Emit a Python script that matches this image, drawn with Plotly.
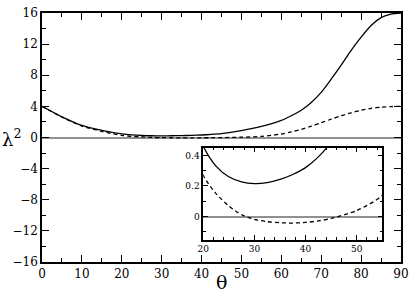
import plotly.graph_objects as go

# Data
theta = [0, 5, 10, 15, 20, 22.5, 25, 27.5, 30, 32.5, 35, 37.5, 40, 42.5, 45,
         50, 55, 60, 62.5, 65, 67.5, 70, 72.5, 75, 77.5, 80, 82.5, 85, 87.5, 90]
solid = [4.0, 2.65, 1.55, 0.92, 0.46, 0.33, 0.26, 0.227, 0.216, 0.222, 0.243,
         0.275, 0.32, 0.39, 0.49, 0.88, 1.42, 2.2, 2.8, 3.5, 4.5, 5.8, 7.5, 9.3, 11.2,
         12.9, 14.4, 15.4, 15.87, 16.0]
dashed = [4.0, 2.62, 1.47, 0.78, 0.27, 0.15, 0.07, 0.012, -0.018, -0.033, -0.04,
          -0.042, -0.038, -0.028, -0.012, 0.04, 0.14, 0.45, 0.73, 1.05, 1.45, 1.9, 2.35,
          2.8, 3.18, 3.5, 3.75, 3.9, 3.98, 4.0]

main_xticks = [0, 10, 20, 30, 40, 50, 60, 70, 80, 90]
main_yticks = [-16, -12, -8, -4, 0, 4, 8, 12, 16]
inset_xticks = [20, 30, 40, 50]
inset_yticks = [0, 0.2, 0.4]

FONT = "DejaVu Serif"

fig = go.Figure()
for ax in ["", "2"]:
    xa, ya = "x" + ax, "y" + ax
    fig.add_trace(go.Scatter(x=theta, y=solid, mode="lines", xaxis=xa, yaxis=ya,
                             line=dict(color="black", width=1.3, shape="spline", smoothing=0.7),
                             showlegend=False, hoverinfo="skip"))
    fig.add_trace(go.Scatter(x=theta, y=dashed, mode="lines", xaxis=xa, yaxis=ya,
                             line=dict(color="black", width=1.3, dash="4px,3px", shape="spline", smoothing=0.7),
                             showlegend=False, hoverinfo="skip"))

axis_common = dict(showline=True, linecolor="black", linewidth=1.5, mirror="ticks",
                   ticks="inside", tickcolor="black", showgrid=False)

fig.update_layout(
    width=415, height=295,
    margin=dict(l=42, r=9, t=6, b=33),
    paper_bgcolor="white", plot_bgcolor="white",
    font=dict(family=FONT, color="black"),
    xaxis=dict(range=[0, 90], tickvals=main_xticks, ticklen=7, tickwidth=1,
               minor=dict(dtick=5, tick0=0, ticks="inside", ticklen=4, tickcolor="black"),
               tickfont=dict(size=12, family=FONT), zeroline=False, **axis_common),
    yaxis=dict(range=[-16, 16], tickvals=main_yticks, ticklen=7, tickwidth=1,
               minor=dict(dtick=2, tick0=0, ticks="inside", ticklen=4, tickcolor="black"),
               tickfont=dict(size=12, family=FONT), zeroline=True, zerolinecolor="#909090",
               zerolinewidth=1.5, **axis_common),
    xaxis2=dict(domain=[0.449, 0.948], anchor="y2", range=[20, 55], tickvals=inset_xticks,
                ticklen=5, tickwidth=1,
                minor=dict(dtick=2, tick0=20, ticks="inside", ticklen=3, tickcolor="black"),
                tickfont=dict(size=9, family=FONT), zeroline=False, **axis_common),
    yaxis2=dict(domain=[0.09, 0.459], anchor="x2", range=[-0.15, 0.45], tickvals=inset_yticks,
                ticklen=5, tickwidth=1,
                minor=dict(dtick=0.1, tick0=0, ticks="inside", ticklen=3, tickcolor="black"),
                tickfont=dict(size=9, family=FONT), zeroline=True, zerolinecolor="#909090",
                zerolinewidth=1.5, **axis_common),
    annotations=[
        dict(text="θ", x=0.5, y=-0.08, xref="paper", yref="paper", showarrow=False,
             xanchor="center", yanchor="middle", font=dict(size=19, family=FONT)),
        dict(text="λ<sup>2</sup>", x=-0.085, y=0.5, xref="paper", yref="paper", showarrow=False,
             xanchor="center", yanchor="middle", font=dict(size=18, family=FONT)),
    ],
)

fig.write_html("out.html", config={"displayModeBar": False})
with open("out.html", "r", encoding="utf-8") as f:
    html = f.read()
html = html.replace("<body>", '<body style="margin:0;padding:0;">', 1)
with open("out.html", "w", encoding="utf-8") as f:
    f.write(html)
